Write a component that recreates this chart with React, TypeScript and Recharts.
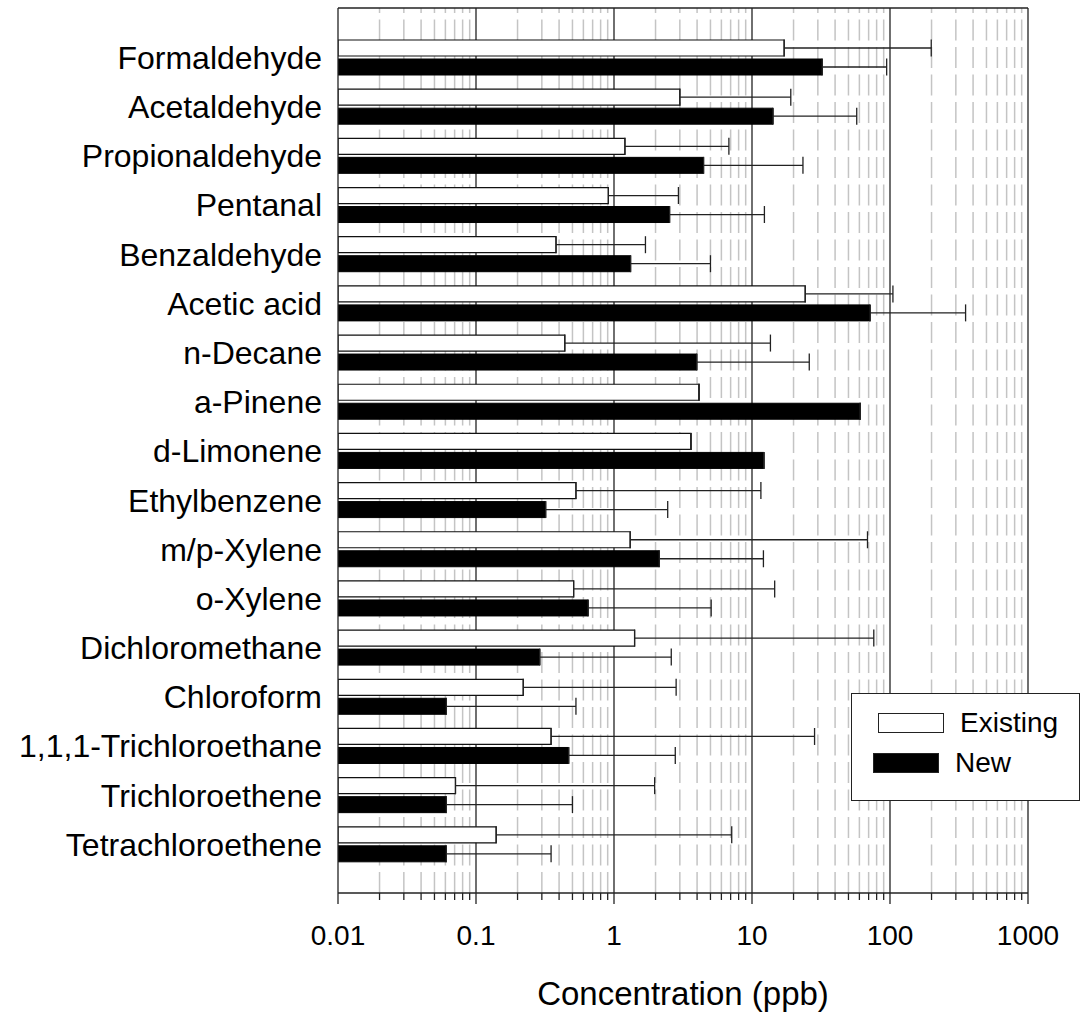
import React from 'react';
import { BarChart, Bar, XAxis, YAxis, ErrorBar, ReferenceLine, Legend } from 'recharts';

const FONT = '"Liberation Sans", Arial, Helvetica, sans-serif';

const categories = [
  'Formaldehyde',
  'Acetaldehyde',
  'Propionaldehyde',
  'Pentanal',
  'Benzaldehyde',
  'Acetic acid',
  'n-Decane',
  'a-Pinene',
  'd-Limonene',
  'Ethylbenzene',
  'm/p-Xylene',
  'o-Xylene',
  'Dichloromethane',
  'Chloroform',
  '1,1,1-Trichloroethane',
  'Trichloroethene',
  'Tetrachloroethene',
];

// mean concentrations (ppb)
const existing = [17.1, 3.0, 1.2, 0.91, 0.38, 24.3, 0.44, 4.13, 3.61, 0.53, 1.31, 0.51, 1.41, 0.22, 0.35, 0.071, 0.14];
const newer = [32.3, 14.2, 4.46, 2.53, 1.32, 71.8, 3.98, 60.9, 12.2, 0.32, 2.13, 0.65, 0.29, 0.061, 0.47, 0.061, 0.061];

// upper end of the error whisker (ppb), null = no whisker
const existingHigh = [199, 19.1, 6.8, 2.93, 1.69, 105, 13.6, null, null, 11.6, 68.7, 14.6, 76.3, 2.82, 28.4, 1.97, 7.13];
const newerHigh = [94.6, 57.4, 23.4, 12.3, 5.0, 353, 26.0, null, null, 2.45, 12.1, 5.06, 2.6, 0.53, 2.78, 0.5, 0.35];

const majorTicks = [0.01, 0.1, 1, 10, 100, 1000];
const minorSteps = [2, 3, 4, 5, 6, 7, 8, 9];
const minorTicks = majorTicks.slice(0, -1).flatMap((d) => minorSteps.map((m) => d * m));
const allTicks = [...majorTicks, ...minorTicks].sort((a, b) => a - b);

const data = categories.map((name, i) => ({
  name,
  existing: existing[i],
  newer: newer[i],
  existingErr: [0, existingHigh[i] == null ? 0 : existingHigh[i]! - existing[i]],
  newerErr: [0, newerHigh[i] == null ? 0 : newerHigh[i]! - newer[i]],
}));

function XTick(props: any) {
  const { x, y, payload } = props;
  const major = majorTicks.includes(payload.value);
  return (
    <g>
      <line x1={x} y1={y} x2={x} y2={y + (major ? 11 : 7)} stroke="#222" strokeWidth={1.3} />
      {major && (
        <text x={x} y={y + 52} textAnchor="middle" fontSize={28} fontFamily={FONT} fill="#000">
          {String(payload.value)}
        </text>
      )}
    </g>
  );
}

function LegendBox(props: any) {
  const { payload = [] } = props;
  return (
    <div
      style={{
        width: 229,
        height: 108,
        boxSizing: 'border-box',
        border: '1.5px solid #222',
        background: '#fff',
        position: 'relative',
        fontFamily: FONT,
      }}
    >
      {payload.map((entry: any, i: number) => (
        <div
          key={entry.value}
          style={{
            position: 'absolute',
            left: i === 0 ? 26 : 21,
            top: 19 + i * 40,
            height: 20,
            display: 'flex',
            alignItems: 'center',
          }}
        >
          <div
            style={{
              width: 66,
              height: 20,
              boxSizing: 'border-box',
              border: '1.5px solid #222',
              background: entry.color,
            }}
          />
          <span style={{ marginLeft: 16, fontSize: 28, color: '#000', lineHeight: '20px' }}>{entry.value}</span>
        </div>
      ))}
    </div>
  );
}

export default function App() {
  return (
    <div style={{ position: 'absolute', left: 0, top: 0, width: 1080, height: 1017, background: '#fff', fontFamily: FONT }}>
      <BarChart
        width={1080}
        height={1017}
        data={data}
        layout="vertical"
        barGap={3}
        margin={{ top: 7, right: 52, bottom: 0, left: 0 }}
      >
        {minorTicks.map((v) => (
          <ReferenceLine
            key={'m' + v}
            x={v}
            stroke="#c4c4c4"
            strokeWidth={1.5}
            strokeDasharray="21 6.5"
            zIndex={-10}
          />
        ))}
        {majorTicks.slice(1).map((v) => (
          <ReferenceLine key={'M' + v} x={v} stroke="#222" strokeWidth={1.3} zIndex={-5} />
        ))}
        <XAxis
          type="number"
          scale="log"
          domain={[0.01, 1000]}
          ticks={allTicks}
          interval={0}
          allowDataOverflow
          tickLine={false}
          tickSize={0}
          tickMargin={0}
          tick={<XTick />}
          height={124}
          axisLine={{ stroke: '#222', strokeWidth: 1.3 }}
          label={{
            value: 'Concentration (ppb)',
            position: 'insideBottom',
            offset: 12,
            style: { fontSize: 33, fill: '#000', fontFamily: FONT },
          }}
        />
        <XAxis
          xAxisId="top"
          orientation="top"
          type="number"
          scale="log"
          domain={[0.01, 1000]}
          allowDataOverflow
          tick={false}
          tickLine={false}
          height={1}
          axisLine={{ stroke: '#222', strokeWidth: 1.3 }}
        />
        <YAxis
          type="category"
          dataKey="name"
          width={338}
          interval={0}
          tickLine={false}
          tickSize={0}
          tickMargin={16}
          padding={{ top: 25, bottom: 24 }}
          axisLine={{ stroke: '#222', strokeWidth: 1.3 }}
          tick={{ fontSize: 32, fill: '#000', fontFamily: FONT }}
        />
        <Legend
          layout="horizontal"
          verticalAlign="middle"
          align="center"
          width={229}
          wrapperStyle={{ left: 851, top: 693, width: 229, height: 108 }}
          content={<LegendBox />}
        />
        <Bar
          dataKey="existing"
          name="Existing"
          fill="#ffffff"
          stroke="#111"
          strokeWidth={1.2}
          barSize={16}
          isAnimationActive={false}
        >
          <ErrorBar dataKey="existingErr" direction="x" width={8.5} stroke="#222" strokeWidth={1.3} isAnimationActive={false} />
        </Bar>
        <Bar
          dataKey="newer"
          name="New"
          fill="#000000"
          stroke="#000"
          strokeWidth={1}
          barSize={16}
          isAnimationActive={false}
        >
          <ErrorBar dataKey="newerErr" direction="x" width={8.5} stroke="#222" strokeWidth={1.3} isAnimationActive={false} />
        </Bar>
      </BarChart>
    </div>
  );
}
